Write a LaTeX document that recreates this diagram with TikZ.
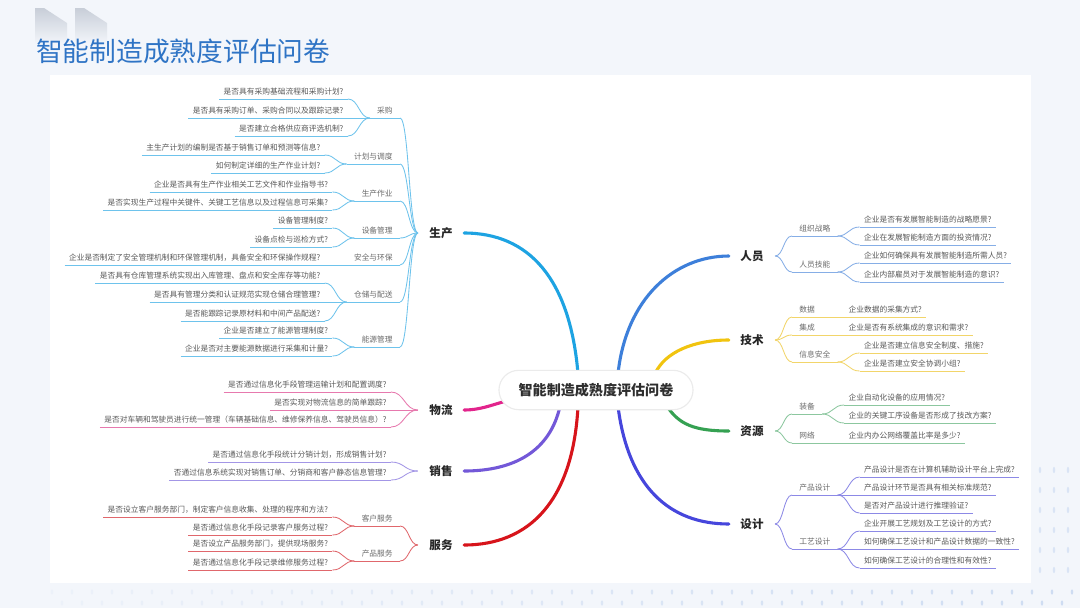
\documentclass[tikz,border=0pt]{standalone}
\usepackage{fontspec}
\setmainfont{Noto Sans CJK SC}
\usetikzlibrary{calc, backgrounds}
\definecolor{slidebg}{HTML}{F3F6FB}
\definecolor{deco}{HTML}{C8CED8}
\definecolor{dotc}{HTML}{BCD0EE}
\definecolor{titleblue}{HTML}{2F74C5}
\definecolor{prodc}{HTML}{1DA3E2}
\definecolor{prodl}{HTML}{6EC3EC}
\definecolor{logc}{HTML}{E2248C}
\definecolor{logl}{HTML}{E779AE}
\definecolor{salec}{HTML}{7358D8}
\definecolor{salel}{HTML}{A396E6}
\definecolor{servc}{HTML}{D7141B}
\definecolor{servl}{HTML}{E0676C}
\definecolor{persc}{HTML}{3D7FDA}
\definecolor{persl}{HTML}{86AEE6}
\definecolor{techc}{HTML}{F1C40F}
\definecolor{techl}{HTML}{F2D56A}
\definecolor{resc}{HTML}{35A152}
\definecolor{resl}{HTML}{8CC79F}
\definecolor{desc}{HTML}{4646DC}
\definecolor{desl}{HTML}{8C89E6}

\begin{document}
\begin{tikzpicture}[x=0.025cm, y=-0.025cm,
    leaf/.style={inner xsep=3pt, inner ysep=1.8pt, text height=4.6pt, text depth=1pt, text=black!65, font=\fontsize{5.5}{6}\selectfont,
      append after command={(\tikzlastnode.south west) edge[draw=#1, line width=0.6pt] (\tikzlastnode.south east)}},
    leafL/.style={leaf=#1, anchor=south east},
    leafR/.style={leaf=#1, anchor=south west},
    sub/.style={leaf=#1, inner xsep=5pt, text=black!58},
    subL/.style={sub=#1, anchor=south east},
    subR/.style={sub=#1, anchor=south west},
    topic/.style={inner xsep=8pt, text=black!85, font=\bfseries\fontsize{8.2}{10}\selectfont},
    brace/.style={to path={let \p1=(\tikztostart), \p2=(\tikztotarget) in .. controls ({(\x1+\x2)/2},\y1) and ({(\x1+\x2)/2},\y2) .. (\tikztotarget)}},
    fan/.style={draw=#1, line width=0.6pt},
    branch/.style={draw=#1, line width=2.2pt, line cap=round}]
    \useasboundingbox (0,0) rectangle (1080,608);

    % Slide and card
    \begin{scope}[on background layer]
        \fill[slidebg] (0,0) rectangle (1080,608);
        \foreach \i [evaluate=\i as \op using 0.12+0.55*\i/51] in {0,...,51} {
            \fill[dotc, opacity=\op] (52+\i*20,592) ellipse (0.9pt and 1.9pt);
            \fill[dotc, opacity=\op] (62+\i*20,603) ellipse (0.9pt and 1.9pt);
        }
        \foreach \r in {0,...,5}
            \foreach \c in {0,1,2}
                \fill[dotc, opacity=0.45] (1040+\c*14,470+\r*20) ellipse (0.9pt and 2.2pt);
        \fill[white] (50,75) rectangle (1031,583);
        \shade[top color=deco, bottom color=slidebg] (35,8) -- (44,8) -- (67,23) -- (67,44) -- (35,44) -- cycle;
        \shade[top color=deco, bottom color=slidebg] (75,8) -- (84,8) -- (107,23) -- (107,44) -- (75,44) -- cycle;
    \end{scope}

    % Title
    \node[anchor=west, inner sep=0pt, text=titleblue, font=\fontsize{19}{22}\selectfont] (title) at (36,51) {智能制造成熟度评估问卷};

    % Centre
    \node[draw=black!8, line width=0.8pt, fill=white, rounded corners=14pt, minimum width=138pt, minimum height=28pt, text=black!82, font=\bfseries\fontsize{10}{12}\selectfont] (root) at (596,390) {智能制造成熟度评估问卷};

    % Main topics
    \node[topic] (prod) at (441,233) {生产};
    \node[topic] (logi) at (441,410) {物流};
    \node[topic] (sale) at (441,471) {销售};
    \node[topic] (serv) at (441,545) {服务};
    \node[topic] (pers) at (752,256) {人员};
    \node[topic] (tech) at (752,340) {技术};
    \node[topic] (reso) at (752,431) {资源};
    \node[topic] (desi) at (752,524) {设计};

    % Production
    \node[subL=prodl] (cg) at (400,118) {采购};
    \node[subL=prodl] (jh) at (400,164) {计划与调度};
    \node[subL=prodl] (zy) at (400,201) {生产作业};
    \node[subL=prodl] (sb) at (400,238) {设备管理};
    \node[subL=prodl] (aq) at (400,265) {安全与环保};
    \node[subL=prodl] (cc) at (400,302) {仓储与配送};
    \node[subL=prodl] (ny) at (400,347) {能源管理};
    \node[leafL=prodl] (cg1) at ($(cg.south west)+(-22,-19)$) {是否具有采购基础流程和采购计划?};
    \node[leafL=prodl] (cg2) at ($(cg.south west)+(-22,0)$) {是否具有采购订单、采购合同以及跟踪记录?};
    \node[leafL=prodl] (cg3) at ($(cg.south west)+(-22,18)$) {是否建立合格供应商评选机制?};
    \node[leafL=prodl] (jh1) at ($(jh.south west)+(-22,-9)$) {主生产计划的编制是否基于销售订单和预测等信息?};
    \node[leafL=prodl] (jh2) at ($(jh.south west)+(-22,9)$) {如何制定详细的生产作业计划?};
    \node[leafL=prodl] (zy1) at ($(zy.south west)+(-22,-9)$) {企业是否具有生产作业相关工艺文件和作业指导书?};
    \node[leafL=prodl] (zy2) at ($(zy.south west)+(-22,9)$) {是否实现生产过程中关键件、关键工艺信息以及过程信息可采集?};
    \node[leafL=prodl] (sb1) at ($(sb.south west)+(-22,-10)$) {设备管理制度?};
    \node[leafL=prodl] (sb2) at ($(sb.south west)+(-22,9)$) {设备点检与巡检方式?};
    \node[leafL=prodl] (aq1) at ($(aq.south west)+(-22,0)$) {企业是否制定了安全管理机制和环保管理机制，具备安全和环保操作规程?};
    \node[leafL=prodl] (cc1) at ($(cc.south west)+(-22,-19)$) {是否具有仓库管理系统实现出入库管理、盘点和安全库存等功能?};
    \node[leafL=prodl] (cc2) at ($(cc.south west)+(-22,0)$) {是否具有管理分类和认证规范实现仓储合理管理?};
    \node[leafL=prodl] (cc3) at ($(cc.south west)+(-22,19)$) {是否能跟踪记录原材料和中间产品配送?};
    \node[leafL=prodl] (ny1) at ($(ny.south west)+(-22,-9)$) {企业是否建立了能源管理制度?};
    \node[leafL=prodl] (ny2) at ($(ny.south west)+(-22,9)$) {企业是否对主要能源数据进行采集和计量?};

    % Logistics and sales
    \node[leafL=logl] (lg1) at ($(logi.west)+(-27,-18)$) {是否通过信息化手段管理运输计划和配置调度?};
    \node[leafL=logl] (lg2) at ($(logi.west)+(-27,0)$) {是否实现对物流信息的简单跟踪?};
    \node[leafL=logl] (lg3) at ($(logi.west)+(-27,17)$) {是否对车辆和驾驶员进行统一管理（车辆基础信息、维修保养信息、驾驶员信息）?};
    \node[leafL=salel] (xs1) at ($(sale.west)+(-27,-9)$) {是否通过信息化手段统计分销计划，形成销售计划?};
    \node[leafL=salel] (xs2) at ($(sale.west)+(-27,9)$) {否通过信息系统实现对销售订单、分销商和客户静态信息管理?};

    % Service
    \node[subL=servl] (kf) at (400,526) {客户服务};
    \node[subL=servl] (cp) at (400,561) {产品服务};
    \node[leafL=servl] (kf1) at ($(kf.south west)+(-22,-9)$) {是否设立客户服务部门，制定客户信息收集、处理的程序和方法?};
    \node[leafL=servl] (kf2) at ($(kf.south west)+(-22,9)$) {是否通过信息化手段记录客户服务过程?};
    \node[leafL=servl] (cp1) at ($(cp.south west)+(-22,-10)$) {是否设立产品服务部门，提供现场服务?};
    \node[leafL=servl] (cp2) at ($(cp.south west)+(-22,9)$) {是否通过信息化手段记录维修服务过程?};

    % People
    \node[subR=persl] (zl) at (792,236) {组织战略};
    \node[subR=persl] (jn) at (792,272) {人员技能};
    \node[leafR=persl] (zl1) at ($(zl.south east)+(22,-9)$) {企业是否有发展智能制造的战略愿景?};
    \node[leafR=persl] (zl2) at ($(zl.south east)+(22,9)$) {企业在发展智能制造方面的投资情况?};
    \node[leafR=persl] (jn1) at ($(jn.south east)+(22,-9)$) {企业如何确保具有发展智能制造所需人员?};
    \node[leafR=persl] (jn2) at ($(jn.south east)+(22,10)$) {企业内部雇员对于发展智能制造的意识?};

    % Technology
    \node[subR=techl] (sj) at (792,317) {数据};
    \node[subR=techl] (jc) at (792,335) {集成};
    \node[subR=techl] (xa) at (792,362) {信息安全};
    \node[leafR=techl] (sj1) at ($(sj.south east)+(22,0)$) {企业数据的采集方式?};
    \node[leafR=techl] (jc1) at ($(jc.south east)+(22,0)$) {企业是否有系统集成的意识和需求?};
    \node[leafR=techl] (xa1) at ($(xa.south east)+(22,-9)$) {企业是否建立信息安全制度、措施?};
    \node[leafR=techl] (xa2) at ($(xa.south east)+(22,9)$) {企业是否建立安全协调小组?};

    % Resources
    \node[subR=resl] (zb) at (792,414) {装备};
    \node[subR=resl] (wn) at (792,443) {网络};
    \node[leafR=resl] (zb1) at ($(zb.south east)+(22,-9)$) {企业自动化设备的应用情况?};
    \node[leafR=resl] (zb2) at ($(zb.south east)+(22,9)$) {企业的关键工序设备是否形成了技改方案?};
    \node[leafR=resl] (wn1) at ($(wn.south east)+(22,0)$) {企业内办公网络覆盖比率是多少?};

    % Design
    \node[subR=desl] (pd) at (792,495) {产品设计};
    \node[subR=desl] (gy) at (792,549) {工艺设计};
    \node[leafR=desl] (pd1) at ($(pd.south east)+(22,-18)$) {产品设计是否在计算机辅助设计平台上完成?};
    \node[leafR=desl] (pd2) at ($(pd.south east)+(22,0)$) {产品设计环节是否具有相关标准规范?};
    \node[leafR=desl] (pd3) at ($(pd.south east)+(22,18)$) {是否对产品设计进行推理验证?};
    \node[leafR=desl] (gy1) at ($(gy.south east)+(22,-18)$) {企业开展工艺规划及工艺设计的方式?};
    \node[leafR=desl] (gy2) at ($(gy.south east)+(22,0)$) {如何确保工艺设计和产品设计数据的一致性?};
    \node[leafR=desl] (gy3) at ($(gy.south east)+(22,19)$) {如何确保工艺设计的合理性和有效性?};

    % Fans
    \draw[fan=prodl] (prod.west) edge[brace] (cg.south east) edge[brace] (jh.south east) edge[brace] (zy.south east) edge[brace] (sb.south east) edge[brace] (aq.south east) edge[brace] (cc.south east) edge[brace] (ny.south east);
    \draw[fan=prodl] (cg.south west) edge[brace] (cg1.south east) edge[brace] (cg2.south east) edge[brace] (cg3.south east);
    \draw[fan=prodl] (jh.south west) edge[brace] (jh1.south east) edge[brace] (jh2.south east);
    \draw[fan=prodl] (zy.south west) edge[brace] (zy1.south east) edge[brace] (zy2.south east);
    \draw[fan=prodl] (sb.south west) edge[brace] (sb1.south east) edge[brace] (sb2.south east);
    \draw[fan=prodl] (aq.south west) edge[brace] (aq1.south east);
    \draw[fan=prodl] (cc.south west) edge[brace] (cc1.south east) edge[brace] (cc2.south east) edge[brace] (cc3.south east);
    \draw[fan=prodl] (ny.south west) edge[brace] (ny1.south east) edge[brace] (ny2.south east);
    \draw[fan=logl] (logi.west) edge[brace] (lg1.south east) edge[brace] (lg2.south east) edge[brace] (lg3.south east);
    \draw[fan=salel] (sale.west) edge[brace] (xs1.south east) edge[brace] (xs2.south east);
    \draw[fan=servl] (serv.west) edge[brace] (kf.south east) edge[brace] (cp.south east);
    \draw[fan=servl] (kf.south west) edge[brace] (kf1.south east) edge[brace] (kf2.south east);
    \draw[fan=servl] (cp.south west) edge[brace] (cp1.south east) edge[brace] (cp2.south east);
    \draw[fan=persl] (pers.east) edge[brace] (zl.south west) edge[brace] (jn.south west);
    \draw[fan=persl] (zl.south east) edge[brace] (zl1.south west) edge[brace] (zl2.south west);
    \draw[fan=persl] (jn.south east) edge[brace] (jn1.south west) edge[brace] (jn2.south west);
    \draw[fan=techl] (tech.east) edge[brace] (sj.south west) edge[brace] (jc.south west) edge[brace] (xa.south west);
    \draw[fan=techl] (sj.south east) edge[brace] (sj1.south west);
    \draw[fan=techl] (jc.south east) edge[brace] (jc1.south west);
    \draw[fan=techl] (xa.south east) edge[brace] (xa1.south west) edge[brace] (xa2.south west);
    \draw[fan=resl] (reso.east) edge[brace] (zb.south west) edge[brace] (wn.south west);
    \draw[fan=resl] (zb.south east) edge[brace] (zb1.south west) edge[brace] (zb2.south west);
    \draw[fan=resl] (wn.south east) edge[brace] (wn1.south west);
    \draw[fan=desl] (desi.east) edge[brace] (pd.south west) edge[brace] (gy.south west);
    \draw[fan=desl] (pd.south east) edge[brace] (pd1.south west) edge[brace] (pd2.south west) edge[brace] (pd3.south west);
    \draw[fan=desl] (gy.south east) edge[brace] (gy1.south west) edge[brace] (gy2.south west) edge[brace] (gy3.south west);

    % Branches
    \begin{scope}[on background layer]
        \draw[branch=prodc] ($(root.north)+(-18,4)$) .. controls +(-8,-95) and +(65,0) .. (prod.east);
        \draw[branch=logc] ($(root.west)+(14,10)$) .. controls +(-15,2) and +(20,0) .. (logi.east);
        \draw[branch=salec] ($(root.south)+(-36,-4)$) .. controls +(-10,45) and +(50,0) .. (sale.east);
        \draw[branch=servc] ($(root.south)+(-18,-4)$) .. controls +(-5,95) and +(65,0) .. (serv.east);
        \draw[branch=persc] ($(root.north)+(22,4)$) .. controls +(8,-75) and +(-55,0) .. (pers.west);
        \draw[branch=techc] ($(root.north)+(59,4)$) .. controls +(10,-22) and +(-35,0) .. (tech.west);
        \draw[branch=resc] ($(root.south)+(71,-4)$) .. controls +(12,18) and +(-35,0) .. (reso.west);
        \draw[branch=desc] ($(root.south)+(22,-4)$) .. controls +(10,80) and +(-60,0) .. (desi.west);
    \end{scope}
\end{tikzpicture}
\end{document}
